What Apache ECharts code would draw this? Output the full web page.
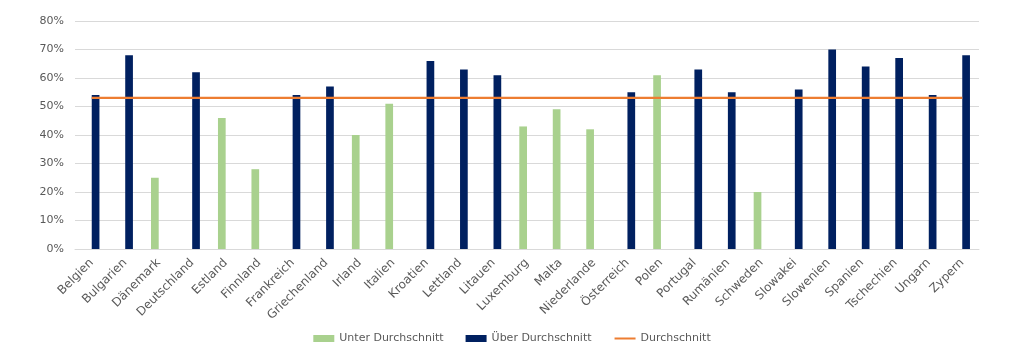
<!DOCTYPE html>
<html>
<head>
<meta charset="utf-8">
<script src="https://cdn.jsdelivr.net/npm/echarts@6/dist/echarts.min.js"></script>
<style>
	html, body { margin: 0; padding: 0; background: #fff; }
	#chart { width: 1024px; height: 354px; }
</style>
</head>
<body>
<div id="chart"></div>
<script>
	// Länder
	var laender = ['Belgien', 'Bulgarien', 'Dänemark', 'Deutschland', 'Estland', 'Finnland', 'Frankreich', 'Griechenland', 'Irland', 'Italien', 'Kroatien', 'Lettland', 'Litauen', 'Luxemburg', 'Malta', 'Niederlande', 'Österreich', 'Polen', 'Portugal', 'Rumänien', 'Schweden', 'Slowakei', 'Slowenien', 'Spanien', 'Tschechien', 'Ungarn', 'Zypern'];
	// Werte in %
	var unter = [null, null, 25, null, 46, 28, null, null, 40, 51, null, null, null, 43, 49, 42, null, 61, null, null, 20, null, null, null, null, null, null];
	var ueber = [54, 68, null, 62, null, null, 54, 57, null, null, 66, 63, 61, null, null, null, 55, null, 63, 55, null, 56, 70, 64, 67, 54, 68];
	var schnitt = [53, 53, 53, 53, 53, 53, 53, 53, 53, 53, 53, 53, 53, 53, 53, 53, 53, 53, 53, 53, 53, 53, 53, 53, 53, 53, 53];

	var myChart = echarts.init(document.getElementById('chart'));
	var option = {
		animation: false,
		textStyle: {
			fontFamily: 'DejaVu Sans'
		},
		grid: {
			left: 75,
			right: 45,
			top: 21,
			bottom: 105
		},
		legend: {
			bottom: 5,
			left: 'center',
			itemWidth: 21,
			itemHeight: 7,
			itemGap: 22,
			textStyle: {
				color: '#595959',
				fontSize: 11
			},
			data: [
				{ name: 'Unter Durchschnitt', icon: 'rect' },
				{ name: 'Über Durchschnitt', icon: 'rect' },
				{ name: 'Durchschnitt', itemStyle: { opacity: 0 } }
			]
		},
		xAxis: {
			type: 'category',
			data: laender,
			axisLine: {
				lineStyle: { color: '#d9d9d9' }
			},
			axisTick: { show: false },
			axisLabel: {
				rotate: 45,
				interval: 0,
				color: '#595959',
				fontSize: 12,
				margin: 12
			}
		},
		yAxis: {
			type: 'value',
			min: 0,
			max: 80,
			interval: 10,
			axisLine: { show: false },
			axisTick: { show: false },
			splitLine: {
				lineStyle: { color: '#d9d9d9' }
			},
			axisLabel: {
				color: '#595959',
				fontSize: 11,
				margin: 11,
				formatter: '{value}%'
			}
		},
		series: [{
			name: 'Unter Durchschnitt',
			type: 'bar',
			data: unter,
			barGap: '0%',
			barCategoryGap: '54%',
			itemStyle: { color: '#a9d18e' }
		}, {
			name: 'Über Durchschnitt',
			type: 'bar',
			data: ueber,
			barGap: '0%',
			barCategoryGap: '54%',
			itemStyle: { color: '#002060' }
		}, {
			name: 'Durchschnitt',
			type: 'line',
			data: schnitt,
			symbol: 'none',
			z: 5,
			lineStyle: {
				color: '#ed7d31',
				width: 2.25
			},
			itemStyle: { color: '#ed7d31' }
		}]
	};
	myChart.setOption(option);
</script>
</body>
</html>
